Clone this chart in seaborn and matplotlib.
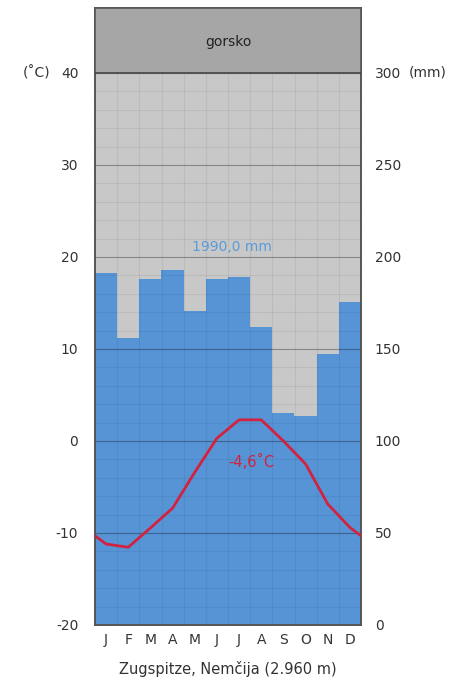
import matplotlib
matplotlib.use("Agg")
import matplotlib.pyplot as plt
import seaborn as sns
import numpy as np
import pandas as pd

# ---- data ----
months = ["J", "F", "M", "A", "M", "J", "J", "A", "S", "O", "N", "D"]
precip_mm = [191.5, 156.1, 187.9, 192.8, 170.8, 187.9, 189.3, 162.1, 115.1, 113.8, 147.1, 175.7]
temp_c = [-11.2, -11.55, -9.45, -7.3, -3.4, 0.3, 2.3, 2.3, 0.0, -2.5, -6.85, -9.4]
temp_ticks = [-20, -10, 0, 10, 20, 30, 40]
precip_ticks = [0, 50, 100, 150, 200, 250, 300]
climate_label = "gorsko"
annual_precip_label = "1990,0 mm"
annual_temp_label = "-4,6˚C"
station_label = "Zugspitze, Nemčija (2.960 m)"

# ---- styling ----
BG = "#c8c8c8"
HEAD = "#a6a6a6"
BLUE = "#5794d6"
RED = "#d2223f"
TXT = "#333333"
FRAME = "#555555"

sns.set_theme(style="white")
plt.rcParams["font.family"] = ["DejaVu Sans"]

W, H = 465, 691
fig = plt.figure(figsize=(W / 100, H / 100), dpi=100)
fig.patch.set_facecolor("white")
ax = fig.add_axes([95 / W, (H - 625) / H, 266 / W, 617 / H])
ax2 = ax.twinx()

t_top = 40 + (73 - 8) / 9.2
t_min = -20
mm_per_deg = 5.0
ax.set_ylim(t_min, t_top)
ax2.set_ylim(0, (t_top - t_min) * mm_per_deg)

# bars on the precipitation axis (drawn underneath)
df = pd.DataFrame({"idx": np.arange(12), "precip": precip_mm})
ax2.patch.set_visible(True)
ax2.set_facecolor(BG)
sns.barplot(data=df, x="idx", y="precip", ax=ax2, color=BLUE, width=1.0,
            saturation=1, edgecolor="none", linewidth=0, zorder=1)

# temperature axis on top
ax.set_zorder(ax2.get_zorder() + 1)
ax.patch.set_visible(False)

# header band
ax.axhspan(40, t_top, color=HEAD, zorder=1)

# grid (minor every 2 deg, month boundaries, major every 10)
for t in np.arange(-18, 40, 2):
    if t % 10 == 0:
        continue
    ax.axhline(t, color="black", alpha=0.06, lw=0.8, zorder=2)
for b in np.arange(0.5, 11.5, 1):
    ax.plot([b, b], [t_min, 40], color="black", alpha=0.06, lw=0.8, zorder=2)
for t in temp_ticks[1:-1]:
    ax.axhline(t, color="black", alpha=0.32, lw=0.8, zorder=2)
ax.axhline(40, color="#444444", lw=1.2, zorder=3)

# temperature line, closed over the year boundary
wrap = (temp_c[0] + temp_c[-1]) / 2
line_df = pd.DataFrame({"x": [-0.5] + list(range(12)) + [11.5],
                        "t": [wrap] + temp_c + [wrap]})
sns.lineplot(data=line_df, x="x", y="t", ax=ax, color=RED, lw=2.0,
             sort=False, zorder=4)

ax.set_xlim(-0.5, 11.5)
ax2.set_xlim(-0.5, 11.5)

# ticks
ax.set_yticks(temp_ticks)
ax.set_yticklabels([str(t) for t in temp_ticks], fontsize=10, color=TXT)
ax2.set_yticks(precip_ticks)
ax2.set_yticklabels([str(p) for p in precip_ticks], fontsize=10, color=TXT)
ax.tick_params(axis="y", length=0, pad=12)
ax2.tick_params(axis="y", length=0, pad=10)
ax.set_xticks(range(12))
ax.set_xticklabels(months, fontsize=10, color=TXT)
ax.tick_params(axis="x", length=0, pad=6)
ax2.set_xlabel("")
ax2.set_ylabel("")
ax.set_ylabel("")
ax.set_xlabel(station_label, fontsize=10.5, color=TXT, labelpad=10)
ax2.tick_params(axis="x", length=0, labelbottom=False)

for a in (ax, ax2):
    for s in a.spines.values():
        s.set_color(FRAME)
        s.set_linewidth(1.2)

# texts
ax.text(0.5, 43.4, climate_label, transform=ax.get_yaxis_transform(),
        ha="center", va="center", fontsize=10, color="#222222", zorder=5)
ax.text(0.515, 21.1, annual_precip_label, transform=ax.get_yaxis_transform(),
        ha="center", va="center", fontsize=10, color="#5b9bd8", zorder=5)
ax.text(0.586, -2.25, annual_temp_label, transform=ax.get_yaxis_transform(),
        ha="center", va="center", fontsize=10.5, color=RED, zorder=5)
fig.text(37 / W, 1 - 73 / H, "(˚C)", ha="center", va="center", fontsize=10, color=TXT)
fig.text(428 / W, 1 - 73 / H, "(mm)", ha="center", va="center", fontsize=10, color=TXT)

fig.savefig("out.png", dpi=100)
